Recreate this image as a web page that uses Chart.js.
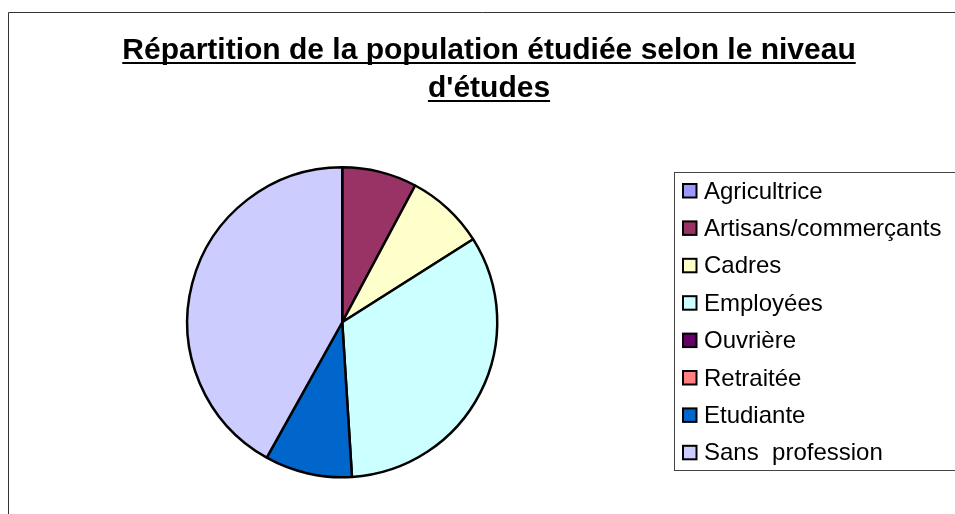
<!DOCTYPE html>
<html>
<head>
<meta charset="utf-8">
<script src="https://cdn.jsdelivr.net/npm/chart.js@4"></script>
<style>
    body { margin: 0; background: #fff; }
    #wrap { width: 955px; height: 514px; position: relative; }
</style>
</head>
<body>
<div id="wrap"><canvas id="pieChart"></canvas></div>
<script>
// Chart data
const titleLines = ["Répartition de la population étudiée selon le niveau", "d'études"];
const categories = ['Agricultrice', 'Artisans/commerçants', 'Cadres', 'Employées', 'Ouvrière', 'Retraitée', 'Etudiante', 'Sans  profession'];
const shares = [0, 7.8, 8.2, 33.0, 0, 0, 9.1, 41.9];
const sliceColors = ['#9999FF', '#993366', '#FFFFCC', '#CCFFFF', '#660066', '#FF8080', '#0066CC', '#CCCCFF'];

const FONT = "'Liberation Sans', Arial, sans-serif";

// Frame, underlined title and boxed legend like the original sheet
const sheetDecor = {
    id: 'sheetDecor',
    afterDraw(chart) {
        const ctx = chart.ctx;
        ctx.save();

        // outer frame
        ctx.strokeStyle = '#333';
        ctx.lineWidth = 1;
        ctx.beginPath();
        ctx.moveTo(8.5, 520);
        ctx.lineTo(8.5, 12.5);
        ctx.lineTo(960, 12.5);
        ctx.stroke();

        // title
        ctx.fillStyle = '#000';
        ctx.font = 'bold 30px ' + FONT;
        ctx.textBaseline = 'alphabetic';
        ctx.textAlign = 'center';
        const baselines = [59, 97];
        titleLines.forEach((line, i) => {
            const w = ctx.measureText(line).width;
            ctx.fillText(line, 489, baselines[i]);
            ctx.fillRect(489 - w / 2, baselines[i] + 3, w, 2);
        });

        // legend box
        ctx.strokeStyle = '#444';
        ctx.lineWidth = 1;
        ctx.strokeRect(674.5, 172.5, 300, 298);

        ctx.font = '24px ' + FONT;
        ctx.textAlign = 'left';
        const labels = chart.data.labels;
        const colors = chart.data.datasets[0].backgroundColor;
        labels.forEach((label, i) => {
            const base = 198.5 + i * 37.4;
            ctx.fillStyle = colors[i];
            ctx.fillRect(683, base - 14.5, 13.5, 13.5);
            ctx.strokeStyle = '#000';
            ctx.lineWidth = 2;
            ctx.strokeRect(683, base - 14.5, 13.5, 13.5);
            ctx.fillStyle = '#000';
            ctx.fillText(label, 704, base);
        });
        ctx.restore();
    }
};

const ctx = document.getElementById('pieChart').getContext('2d');
const pieChart = new Chart(ctx, {
    type: 'pie',
    data: {
        labels: categories,
        datasets: [{
            data: shares,
            backgroundColor: sliceColors,
            borderColor: '#000',
            borderWidth: 2.5,
        }],
    },
    options: {
        responsive: true,
        maintainAspectRatio: false,
        animation: false,
        layout: {
            padding: { left: 186, top: 166, right: 456.5, bottom: 35.5 },
        },
        plugins: {
            legend: { display: false },
            title: { display: false },
            tooltip: { enabled: false },
        },
    },
    plugins: [sheetDecor],
});
</script>
</body>
</html>
